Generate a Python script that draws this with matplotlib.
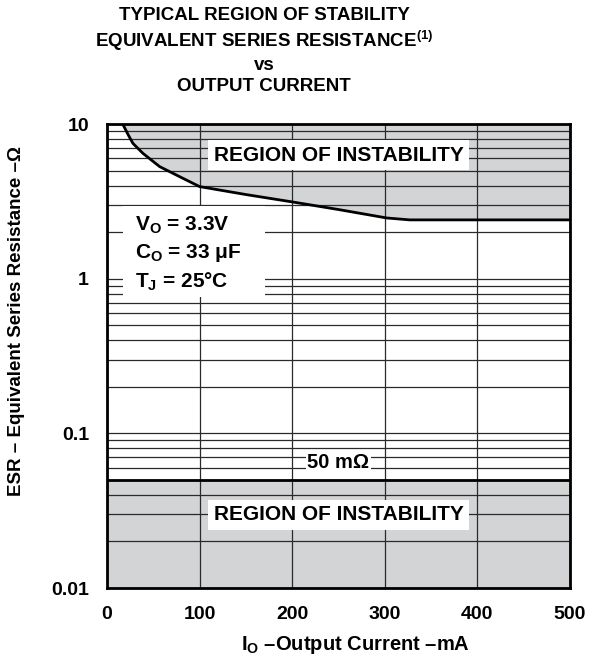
import numpy as np
import matplotlib.pyplot as plt
from matplotlib.patches import Rectangle

plt.rcParams["font.family"] = ["Liberation Sans", "DejaVu Sans"]
plt.rcParams["font.weight"] = "bold"
plt.rcParams["mathtext.fontset"] = "custom"
plt.rcParams["mathtext.rm"] = "Liberation Sans:bold"
plt.rcParams["mathtext.bf"] = "Liberation Sans:bold"
plt.rcParams["mathtext.it"] = "Liberation Sans:bold"
plt.rcParams["mathtext.default"] = "bf"

# boundary of the upper instability region (ESR limit vs output current)
current_ma = [17, 23, 28, 39, 57, 79, 100, 150, 201, 250, 302, 327, 500]
esr_limit = [10, 8.5, 7.5, 6.45, 5.3, 4.55, 3.94, 3.5, 3.13, 2.8, 2.47, 2.4, 2.4]
esr_min = 0.05
x_ticks = [0, 100, 200, 300, 400, 500]
y_ticks = [0.01, 0.1, 1, 10]
y_tick_labels = ["0.01", "0.1", "1", "10"]

gray = "#d3d4d6"
line_col = "#2a2a2a"

fig = plt.figure(figsize=(5.92, 6.59), dpi=100)
ax = fig.add_axes([0.1807, 0.1077, 0.782, 0.7041])
ax.set_yscale("log")
ax.set_xlim(0, 500)
ax.set_ylim(0.01, 10)

# instability regions
ax.fill_between(current_ma, esr_limit, 10, color=gray, lw=0, zorder=1)
ax.fill_between([0, 500], [0.01, 0.01], [esr_min, esr_min], color=gray, lw=0, zorder=1)
ax.plot(current_ma, esr_limit, color="black", lw=2, zorder=5)
ax.axhline(esr_min, color="black", lw=2, zorder=5)

# grid
ax.set_axisbelow(False)
ax.grid(True, which="major", axis="both", color=line_col, lw=0.9)
ax.grid(True, which="minor", axis="y", color=line_col, lw=0.9)
ax.set_xticks(x_ticks)
ax.set_xticklabels([str(v) for v in x_ticks])
ax.set_yticks(y_ticks)
ax.set_yticklabels(y_tick_labels)
ax.tick_params(which="both", length=0, labelsize=14, pad=13)
for lab in ax.get_xticklabels() + ax.get_yticklabels():
    lab.set_fontweight("bold")
for sp in ax.spines.values():
    sp.set_linewidth(2)
    sp.set_zorder(6)

# labels in white boxes
box = dict(facecolor="white", edgecolor="none", pad=4)
ax.text(250, 6.3, "REGION OF INSTABILITY", ha="center", va="center",
        fontsize=15, fontweight="bold", bbox=box, zorder=4)
ax.text(250, 0.0297, "REGION OF INSTABILITY", ha="center", va="center",
        fontsize=15, fontweight="bold", bbox=box, zorder=4)
ax.text(250, 0.0645, "50 m\u03a9", ha="center", va="center",
        fontsize=14.5, fontweight="bold",
        bbox=dict(facecolor="white", edgecolor="none", pad=1), zorder=4)

ax.add_patch(Rectangle((0.034, 0.627), 0.307, 0.196, transform=ax.transAxes,
                       facecolor="white", edgecolor="none", zorder=4))
cond = ["V$_\\mathregular{O}$ = 3.3V", "C$_\\mathregular{O}$ = 33 \u03bcF",
        "T$_\\mathregular{J}$ = 25\u00b0C"]
for i, s in enumerate(cond):
    ax.text(0.06, 0.782 - i * 0.061, s, transform=ax.transAxes, ha="left",
            va="center", fontsize=15, fontweight="bold", zorder=5)

fig.text(355 / 592, 1 - 645 / 659, "I$_\\mathregular{O}$ \u2013Output Current \u2013mA",
         ha="center", va="center", fontsize=14.5, fontweight="bold")
fig.text(17 / 592, 1 - 321 / 659, "ESR \u2013 Equivalent Series Resistance \u2013\u03a9",
         ha="center", va="center", rotation=90, fontsize=13.5, fontweight="bold")

fig.text(264 / 592, 0.923, "TYPICAL REGION OF STABILITY\n"
         "EQUIVALENT SERIES RESISTANCE$^{(1)}$\nvs\nOUTPUT CURRENT",
         ha="center", va="center", fontsize=13.5, fontweight="bold",
         linespacing=1.3)

fig.savefig("out.png", dpi=100)
